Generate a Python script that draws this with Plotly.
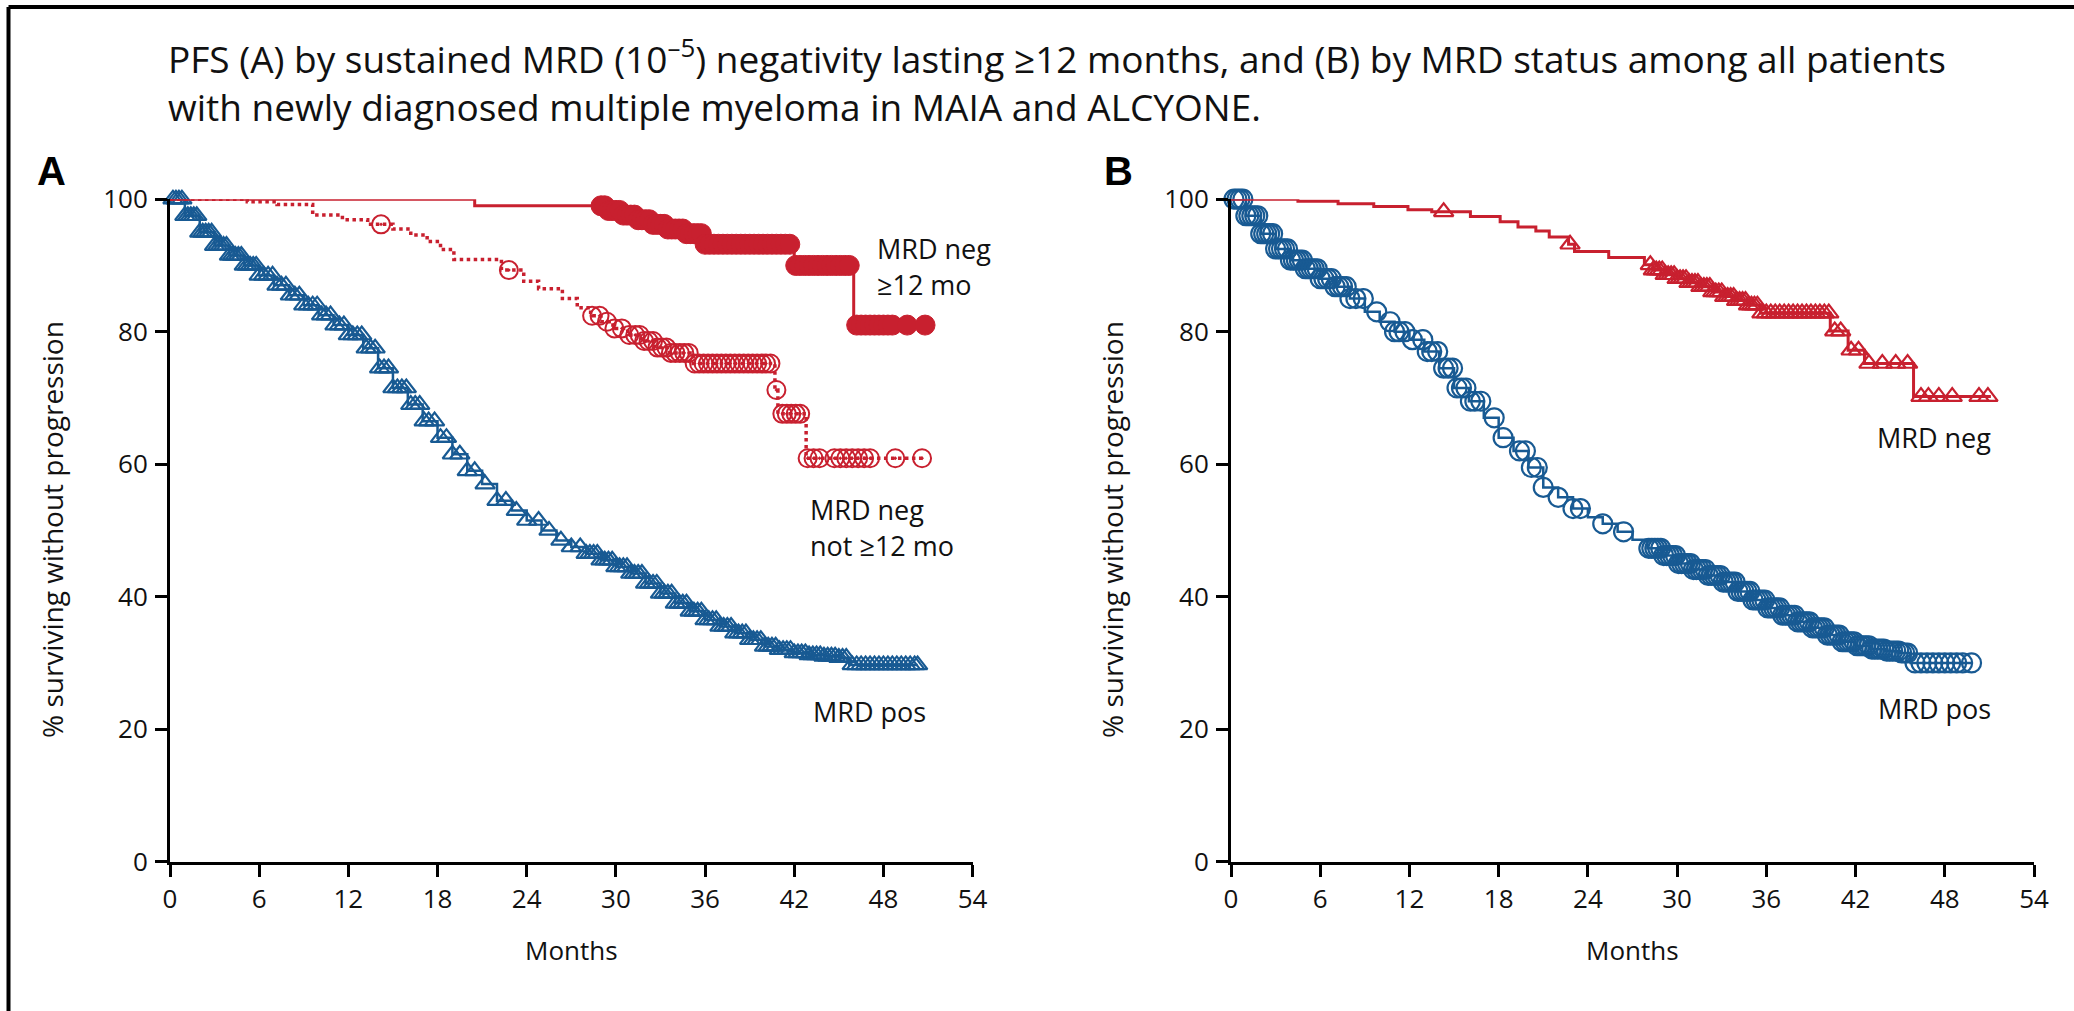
import numpy as np
import plotly.graph_objects as go

RED = "#C8202F"
BLUE = "#185A93"

# ---------------- Panel A data ----------------
# MRD neg sustained >=12 mo (solid red, filled circles)
a_neg12_t = [0, 20.5, 29.5, 30.5, 31.5, 32.5, 33.5, 34.6, 35.8, 42.0, 46.0, 50.8]
a_neg12_s = [100, 99.0, 98.3, 97.6, 96.9, 96.2, 95.5, 94.8, 93.2, 90.0, 81.0, 81.0]
a_neg12_cens = [29.0, 29.25, 29.5, 29.75, 30.0, 30.25, 30.5, 30.75, 31.0, 31.25, 31.5,
                31.75, 32.0, 32.25, 32.5, 32.75, 33.0, 33.25, 33.5, 33.75, 34.0, 34.25,
                34.5, 34.75, 35.0, 35.25, 35.5, 35.75, 36.0, 36.3, 36.6, 36.9, 37.2,
                37.5, 37.8, 38.1, 38.4, 38.7, 39.0, 39.3, 39.6, 39.9, 40.2, 40.5, 40.8,
                41.1, 41.4, 41.7, 42.1, 42.4, 42.7, 43.0, 43.3, 43.6, 43.9, 44.2, 44.5,
                44.8, 45.1, 45.4, 45.7, 46.2, 46.5, 46.8, 47.1, 47.4, 47.7, 48.0, 48.3,
                48.6, 49.6, 50.8]

# MRD neg not sustained >=12 mo (dotted red, open circles with dot)
a_negnot_t = [0, 5.2, 7.2, 9.6, 11.6, 13.3, 15.0, 16.2, 17.3, 18.2, 19.1, 22.3, 23.8,
              24.8, 26.4, 27.4, 28.3, 29.0, 29.8, 30.8, 31.7, 32.6, 33.6, 35.2, 40.7,
              40.9, 42.8, 50.8]
a_negnot_s = [100, 99.6, 99.2, 97.6, 96.9, 96.2, 95.5, 94.6, 93.6, 92.4, 90.9, 89.3, 87.6,
              86.5, 85.0, 83.6, 82.4, 81.5, 80.5, 79.5, 78.6, 77.6, 76.8, 75.2, 71.2,
              67.6, 60.9, 60.9]
a_negnot_cens = [14.2, 22.8, 28.4, 28.9, 29.4, 29.9, 30.4, 30.9, 31.3, 31.6, 31.9, 32.2,
                 32.5, 32.8, 33.1, 33.4, 33.7, 34.0, 34.3, 34.6, 34.9, 35.3, 35.6, 35.9,
                 36.2, 36.5, 36.8, 37.1, 37.4, 37.7, 38.0, 38.3, 38.6, 38.9, 39.2, 39.5,
                 39.8, 40.1, 40.4, 40.8, 41.2, 41.5, 41.8, 42.1, 42.4, 42.9, 43.3, 43.7,
                 44.7, 45.1, 45.5, 45.9, 46.3, 46.7, 47.1, 48.8, 50.6]

# MRD pos (solid blue, open triangles)
a_pos_t = [0, 1, 2, 3, 4, 5, 6, 7, 8, 9, 10, 11, 12, 13, 14, 15, 16, 17, 18, 19, 20,
           21, 22, 23, 24, 25, 26, 27, 28, 29, 30, 31, 32, 33, 34, 35, 36, 37, 38, 39,
           40, 41, 42, 43, 44, 45, 45.7, 50.3]
a_pos_s = [100, 97.5, 95.0, 93.0, 91.5, 90.0, 88.5, 87.0, 85.5, 84.0, 82.5, 81.0, 79.5,
           77.5, 74.5, 71.5, 69.0, 66.5, 64.0, 61.5, 59.0, 57.0, 54.5, 53.0, 51.5, 50.0,
           48.5, 47.5, 46.5, 45.5, 44.5, 43.5, 42.0, 40.5, 39.0, 37.8, 36.5, 35.5, 34.5,
           33.5, 32.5, 32.0, 31.5, 31.2, 31.0, 30.8, 29.7, 29.7]
a_pos_cens = [0.2, 0.4, 0.6, 0.8, 1.0, 1.2, 1.4, 1.6, 1.8, 2.0, 2.2, 2.4, 2.6, 2.8, 3.0,
              3.2, 3.4, 3.6, 3.8, 4.0, 4.2, 4.4, 4.6, 4.8, 5.0, 5.2, 5.4, 5.6, 5.8, 6.0,
              6.3, 6.6, 6.9, 7.2, 7.5, 7.8, 8.1, 8.4, 8.7, 9.0, 9.3, 9.6, 9.9, 10.2,
              10.5, 10.8, 11.1, 11.4, 11.7, 12.0, 12.3, 12.6, 12.9, 13.2, 13.5, 13.8,
              14.1, 14.4, 14.7, 15.0, 15.3, 15.6, 15.9, 16.2, 16.5, 16.8, 17.1, 17.4,
              17.8, 18.2, 18.6, 19.0, 19.5, 20.0, 20.5, 21.2, 22.0, 22.6, 23.3, 24.0,
              24.8, 25.5, 26.3, 27.0, 27.6, 28.0, 28.25, 28.5, 28.75, 29.0, 29.25, 29.5,
              29.75, 30.0, 30.25, 30.5, 30.75, 31.0, 31.25, 31.5, 31.75, 32.0, 32.25,
              32.5, 32.75, 33.0, 33.25, 33.5, 33.75, 34.0, 34.25, 34.5, 34.75, 35.0,
              35.25, 35.5, 35.75, 36.0, 36.25, 36.5, 36.75, 37.0, 37.25, 37.5, 37.75,
              38.0, 38.25, 38.5, 38.75, 39.0, 39.25, 39.5, 39.75, 40.0, 40.25, 40.5,
              40.75, 41.0, 41.25, 41.5, 41.75, 42.0, 42.25, 42.5, 42.75, 43.0, 43.25,
              43.5, 43.75, 44.0, 44.25, 44.5, 44.75, 45.0, 45.25, 45.5, 45.9, 46.2,
              46.5, 46.8, 47.1, 47.4, 47.7, 48.0, 48.3, 48.6, 48.9, 49.2, 49.5, 49.8,
              50.1, 50.3]

# ---------------- Panel B data ----------------
# MRD neg (solid red, open triangles)
b_neg_t = [0, 4.5, 7.2, 9.6, 11.9, 13.5, 16.1, 18.1, 19.3, 20.5, 21.4, 22.7, 23.1, 25.4,
           27.8, 28.4, 29.2, 30.0, 30.8, 31.6, 32.4, 33.2, 34.0, 34.8, 35.6, 40.3, 41.5,
           42.6, 45.9, 51.1]
b_neg_s = [100, 99.7, 99.3, 98.9, 98.4, 98.1, 97.4, 96.6, 95.8, 95.2, 94.3, 93.2, 92.1,
           91.2, 90.1, 89.3, 88.6, 88.0, 87.4, 86.8, 86.0, 85.3, 84.7, 84.0, 82.8, 80.1,
           77.2, 75.2, 70.2, 70.2]
b_neg_cens = [14.3, 22.8, 28.2, 28.4, 28.6, 28.8, 29.0, 29.2, 29.4, 29.6, 29.8, 30.0,
              30.2, 30.4, 30.6, 30.8, 31.0, 31.2, 31.4, 31.6, 31.8, 32.0, 32.2, 32.4,
              32.6, 32.8, 33.0, 33.2, 33.4, 33.6, 33.8, 34.0, 34.2, 34.4, 34.6, 34.8,
              35.0, 35.2, 35.4, 35.7, 36.0, 36.3, 36.6, 36.9, 37.2, 37.5, 37.8, 38.1,
              38.4, 38.7, 39.0, 39.3, 39.6, 39.9, 40.2, 40.6, 41.0, 41.7, 42.2, 42.9,
              43.8, 44.7, 45.5, 46.4, 46.9, 47.6, 48.5, 50.3, 50.9]

# MRD pos (solid blue, open circles)
b_pos_t = [0, 1, 2, 3, 4, 5, 6, 7, 8, 9, 10, 11, 12, 13, 14, 15, 16, 17, 18, 19, 20,
           21, 22, 23, 24, 25, 26, 27, 28, 29, 30, 31, 32, 33, 34, 35, 36, 37, 38, 39,
           40, 41, 42, 43, 44, 45, 45.7, 49.8]
b_pos_s = [100, 97.5, 94.8, 92.5, 90.8, 89.5, 88.0, 86.8, 85.0, 83.0, 81.5, 80.0, 78.8,
           77.0, 74.5, 71.5, 69.5, 67.0, 64.0, 62.0, 59.5, 56.5, 55.0, 53.3, 52.0, 51.0,
           49.8, 48.6, 47.3, 46.2, 45.0, 44.1, 43.2, 42.2, 40.8, 39.5, 38.3, 37.2, 36.2,
           35.3, 34.2, 33.2, 32.6, 32.1, 31.8, 31.5, 30.0, 30.0]
b_pos_cens = [0.2, 0.4, 0.6, 0.8, 1.0, 1.2, 1.4, 1.6, 1.8, 2.0, 2.2, 2.4, 2.6, 2.8, 3.0,
              3.2, 3.4, 3.6, 3.8, 4.0, 4.2, 4.4, 4.6, 4.8, 5.0, 5.2, 5.4, 5.6, 5.8, 6.0,
              6.25, 6.5, 6.75, 7.0, 7.25, 7.5, 7.75, 8.0, 8.4, 8.9, 9.8, 10.7, 11.0,
              11.3, 11.7, 12.2, 12.9, 13.2, 13.5, 13.9, 14.3, 14.6, 14.9, 15.2, 15.5,
              15.8, 16.1, 16.4, 16.8, 17.7, 18.3, 19.4, 19.8, 20.2, 20.6, 21.0, 22.0,
              23.0, 23.5, 25.0, 26.4, 28.1, 28.3, 28.5, 28.7, 28.9, 29.1, 29.3, 29.5,
              29.7, 29.9, 30.1, 30.3, 30.5, 30.7, 30.9, 31.1, 31.3, 31.5, 31.7, 31.9,
              32.1, 32.3, 32.5, 32.7, 32.9, 33.1, 33.3, 33.5, 33.7, 33.9, 34.1, 34.3,
              34.5, 34.7, 34.9, 35.1, 35.3, 35.5, 35.7, 35.9, 36.1, 36.3, 36.5, 36.7,
              36.9, 37.1, 37.3, 37.5, 37.7, 37.9, 38.1, 38.3, 38.5, 38.7, 38.9, 39.1,
              39.3, 39.5, 39.7, 39.9, 40.1, 40.3, 40.5, 40.7, 40.9, 41.1, 41.3, 41.5,
              41.7, 41.9, 42.1, 42.3, 42.5, 42.7, 42.9, 43.1, 43.3, 43.5, 43.7, 43.9,
              44.1, 44.3, 44.5, 44.7, 44.9, 45.1, 45.3, 45.5, 46.0, 46.4, 46.8, 47.2,
              47.6, 48.0, 48.4, 48.8, 49.2, 49.8]

x_ticks = [0, 6, 12, 18, 24, 30, 36, 42, 48, 54]
y_ticks = [0, 20, 40, 60, 80, 100]

TITLE = ("PFS (A) by sustained MRD (10<sup>–5</sup>) negativity lasting ≥12 months, "
         "and (B) by MRD status among all patients<br>"
         "with newly diagnosed multiple myeloma in MAIA and ALCYONE.")


def step_value(times, surv, cens):
    t = np.asarray(times)
    s = np.asarray(surv)
    idx = np.searchsorted(t, np.asarray(cens), side="right") - 1
    return s[idx]


fig = go.Figure()


def add_curve(times, surv, cens, color, symbol, msize, xa, ya, dash="solid",
              lw=3, mlw=2):
    fig.add_trace(go.Scatter(x=times, y=surv, mode="lines", line_shape="hv",
                             line=dict(color=color, width=lw, dash=dash),
                             xaxis=xa, yaxis=ya, showlegend=False,
                             hoverinfo="skip", cliponaxis=False))
    fig.add_trace(go.Scatter(x=cens, y=step_value(times, surv, cens), mode="markers",
                             marker=dict(symbol=symbol, size=msize, color=color,
                                         line=dict(color=color, width=mlw)),
                             xaxis=xa, yaxis=ya, showlegend=False,
                             hoverinfo="skip", cliponaxis=False))


add_curve(a_pos_t, a_pos_s, a_pos_cens, BLUE, "triangle-up-open", 17, "x", "y",
          lw=2.5, mlw=2.2)
add_curve(a_negnot_t, a_negnot_s, a_negnot_cens, RED, "circle-open-dot", 18, "x", "y",
          dash="dot", lw=3.5, mlw=2)
add_curve(a_neg12_t, a_neg12_s, a_neg12_cens, RED, "circle", 20, "x", "y", lw=3, mlw=1)

add_curve(b_pos_t, b_pos_s, b_pos_cens, BLUE, "circle-open", 19, "x2", "y2",
          lw=2.5, mlw=2.2)
add_curve(b_neg_t, b_neg_s, b_neg_cens, RED, "triangle-up-open", 17, "x2", "y2",
          lw=3, mlw=2.2)

TICKFONT = dict(family="Open Sans, Lato, sans-serif", size=26, color="#111")
ax_common = dict(range=[0, 54], tickvals=x_ticks, ticks="outside", ticklen=12,
                 tickwidth=2.5, tickcolor="black", showline=True, linewidth=3,
                 linecolor="black", showgrid=False, zeroline=False, automargin=False,
                 tickfont=TICKFONT, fixedrange=True)
ay_common = dict(range=[0, 100], tickvals=y_ticks, ticks="outside", ticklen=12,
                 tickwidth=2.5, tickcolor="black", showline=True, linewidth=3,
                 linecolor="black", showgrid=False, zeroline=False, automargin=False,
                 tickfont=TICKFONT, ticklabelstandoff=2, fixedrange=True)

W, H = 2074, 1011
ydom = [(H - 861.7) / H, (H - 199.2) / H]
fig.update_layout(
    width=W, height=H,
    margin=dict(l=0, r=0, t=0, b=0, pad=0),
    paper_bgcolor="white", plot_bgcolor="white",
    xaxis=dict(domain=[170 / W, 972.6 / W], anchor="y", **ax_common),
    yaxis=dict(domain=ydom, anchor="x", **ay_common),
    xaxis2=dict(domain=[1231 / W, 2034 / W], anchor="y2", **ax_common),
    yaxis2=dict(domain=ydom, anchor="x2", **ay_common),
)

LABEL = dict(family="Open Sans, Lato, sans-serif", size=27, color="#111")
TFONT = dict(family="Open Sans, Lato, sans-serif", size=37, color="#111")
ann = []
# title (two lines)
ann.append(dict(text=TITLE, x=166 / W, y=1 - 80 / H, xref="paper", yref="paper",
                xanchor="left", yanchor="middle", align="left", showarrow=False,
                font=TFONT))
# panel letters
for letter, xp in (("A", 51), ("B", 1118)):
    ann.append(dict(text="<b>%s</b>" % letter, x=xp / W, y=1 - 171 / H, xref="paper",
                    yref="paper", xanchor="center", yanchor="middle", showarrow=False,
                    font=dict(family="Liberation Sans, Arial, sans-serif", size=40,
                              color="black")))
# axis titles
YT = dict(family="Open Sans, Lato, sans-serif", size=28, color="#111")
for xp, xc in ((52, (170 + 972.6) / 2), (1112, (1231 + 2034) / 2)):
    ann.append(dict(text="% surviving without progression", x=xp / W, y=1 - 530 / H,
                    xref="paper", yref="paper", textangle=-90, xanchor="center",
                    yanchor="middle", showarrow=False, font=YT))
    ann.append(dict(text="Months", x=xc / W, y=1 - 950 / H, xref="paper", yref="paper",
                    xanchor="center", yanchor="middle", showarrow=False,
                    font=dict(family="Open Sans, Lato, sans-serif", size=26,
                              color="#111")))
# curve labels (data coordinates)
curve_labels = [
    ("x", "y", 47.4, 92.6, "MRD neg"), ("x", "y", 47.4, 87.2, "≥12 mo"),
    ("x", "y", 42.9, 53.2, "MRD neg"), ("x", "y", 42.9, 47.8, "not ≥12 mo"),
    ("x", "y", 43.1, 22.6, "MRD pos"),
    ("x2", "y2", 43.3, 64.0, "MRD neg"), ("x2", "y2", 43.4, 23.1, "MRD pos"),
]
for xr, yr, xv, yv, txt in curve_labels:
    ann.append(dict(text=txt, x=xv, y=yv, xref=xr, yref=yr, xanchor="left",
                    yanchor="middle", showarrow=False, font=LABEL))
fig.update_layout(annotations=ann)

# frame lines (top and left) of the figure panel
fig.update_layout(shapes=[
    dict(type="line", xref="paper", yref="paper", x0=8.5 / W, x1=1, y0=1 - 7 / H,
         y1=1 - 7 / H, line=dict(color="black", width=4)),
    dict(type="line", xref="paper", yref="paper", x0=8.5 / W, x1=8.5 / W, y0=0,
         y1=1 - 7 / H, line=dict(color="black", width=4)),
])

fig.write_html("out.html")
